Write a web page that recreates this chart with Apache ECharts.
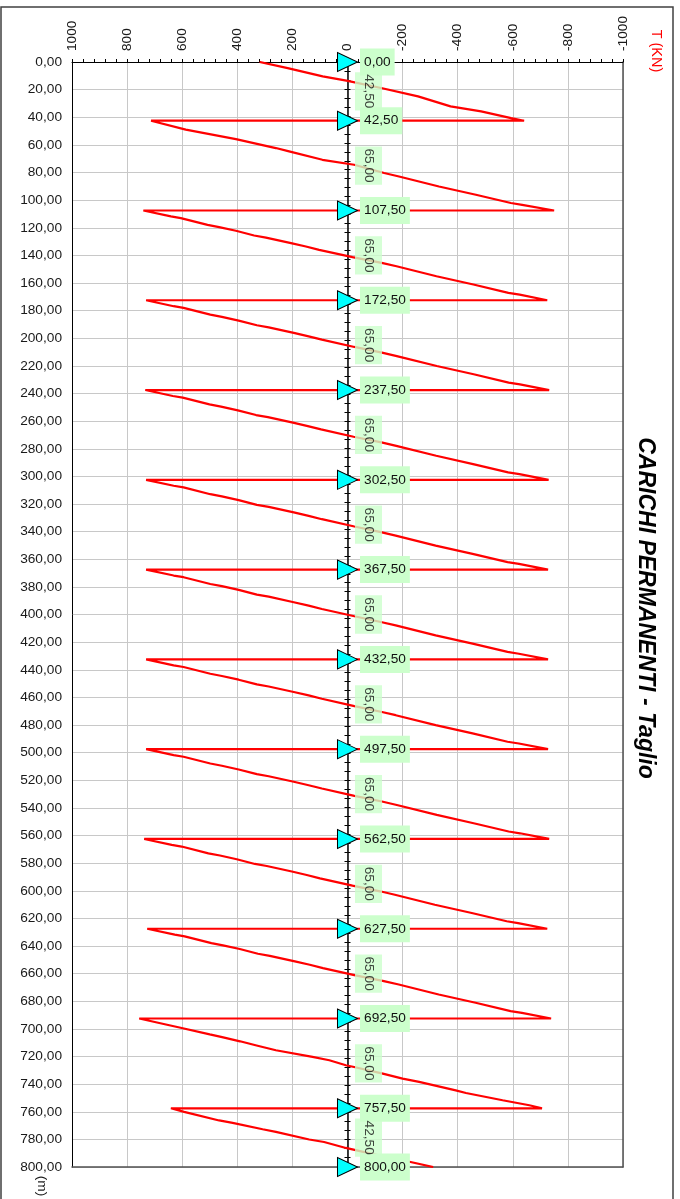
<!DOCTYPE html>
<html><head><meta charset="utf-8">
<script src="https://cdn.jsdelivr.net/npm/echarts@6/dist/echarts.min.js"></script>
<style>html,body{margin:0;padding:0;background:#fff}#c{width:680px;height:1199px}</style>
</head><body><div id="c"></div><script>
// Support positions (m) and span lengths (m)
const supports = [0, 42.5, 107.5, 172.5, 237.5, 302.5, 367.5, 432.5, 497.5, 562.5, 627.5, 692.5, 757.5, 800];
const spanLengths = [42.5, 65, 65, 65, 65, 65, 65, 65, 65, 65, 65, 65, 42.5];
// Shear T (kN) along the beam, per span: [m, T]
const span01 = [[0,319],[4.4,217],[10.4,90],[13.5,4],[18.8,-122],[24.9,-256],[32.1,-374],[35.8,-485],[40.6,-594],[42.5,-641]];
const span02 = [[42.5,713],[49,587],[55.8,405],[62.3,260],[64.7,212],[70.8,91],[74.4,-24],[80.4,-133],[82.9,-187],[90.1,-332],[96.1,-466],[102.1,-593],[103.4,-634],[107.5,-750]];
const span03 = [[107.5,741],[111.8,641],[113,605],[117.9,508],[119.5,466],[122.2,405],[125.6,339],[127.1,296],[131.1,205],[133.6,151],[136,103],[141.3,-18],[145.4,-124],[147.9,-178],[155.1,-323],[161.1,-457],[167.1,-584],[168.4,-625],[172.5,-725]];
const span04 = [[172.5,731],[176.8,631],[178,595],[182.9,498],[184.5,456],[187.2,395],[190.6,329],[192.1,286],[196.1,195],[198.6,141],[201,93],[206.3,-25],[210.4,-125],[212.9,-179],[220.1,-324],[226.1,-458],[232.1,-585],[233.4,-626],[237.5,-732]];
const span05 = [[237.5,734],[241.8,634],[243,598],[247.9,501],[249.5,459],[252.2,398],[255.6,332],[257.1,289],[261.1,198],[263.6,144],[266,96],[271.3,-22],[275.4,-123],[277.9,-177],[285.1,-322],[291.1,-456],[297.1,-583],[298.4,-624],[302.5,-730]];
const span06 = [[302.5,731],[306.8,631],[308,595],[312.9,498],[314.5,456],[317.2,395],[320.6,329],[322.1,286],[326.1,195],[328.6,141],[331,93],[336.3,-25],[340.4,-121],[342.9,-175],[350.1,-320],[356.1,-454],[362.1,-581],[363.4,-622],[367.5,-728]];
const span07 = [[367.5,731],[371.8,631],[373,595],[377.9,498],[379.5,456],[382.2,395],[385.6,329],[387.1,286],[391.1,195],[393.6,141],[396,93],[401.3,-25],[405.4,-121],[407.9,-175],[415.1,-320],[421.1,-454],[427.1,-581],[428.4,-622],[432.5,-728]];
const span08 = [[432.5,731],[436.8,631],[438,595],[442.9,498],[444.5,456],[447.2,395],[450.6,329],[452.1,286],[456.1,195],[458.6,141],[461,93],[466.3,-25],[470.4,-121],[472.9,-175],[480.1,-320],[486.1,-454],[492.1,-581],[493.4,-622],[497.5,-728]];
const span09 = [[497.5,731],[501.8,631],[503,595],[507.9,498],[509.5,456],[512.2,395],[515.6,329],[517.1,286],[521.1,195],[523.6,141],[526,93],[531.3,-25],[535.4,-125],[537.9,-179],[545.1,-324],[551.1,-458],[557.1,-585],[558.4,-626],[562.5,-732]];
const span10 = [[562.5,738],[566.8,638],[568,602],[572.9,505],[574.5,463],[577.2,402],[580.6,336],[582.1,293],[586.1,202],[588.6,148],[591,100],[596.3,-18],[600.4,-118],[602.9,-172],[610.1,-317],[616.1,-451],[622.1,-578],[623.4,-619],[627.5,-725]];
const span11 = [[627.5,727],[631.8,627],[633,591],[637.9,494],[639.5,452],[642.2,391],[645.6,325],[647.1,282],[651.1,191],[653.6,137],[656,89],[661.3,-29],[665.4,-132],[667.9,-186],[675.1,-331],[681.1,-465],[687.1,-592],[688.4,-633],[692.5,-739]];
const span12 = [[692.5,756],[697,655],[699,610],[704,500],[706,455],[709,390],[712,330],[715.5,260],[720.3,127],[722.7,66],[726.3,6],[727.6,-24],[732.4,-128],[736,-200],[738.4,-260],[744.5,-393],[746.4,-430],[751.7,-563],[755.3,-660],[757.5,-706]];
const span13 = [[757.5,641],[760.1,593],[766.3,466],[768.1,417],[772.7,308],[774.6,260],[780.1,139],[781.9,85],[786.2,6],[792.3,-128],[794,-176],[800,-311]];
const spans = [span01, span02, span03, span04, span05, span06, span07, span08, span09, span10, span11, span12, span13];

const fmt = v => Number(v).toFixed(2).replace('.', ',');
const FONT = '"Liberation Sans", Arial, sans-serif';

const shearData = [];
spans.forEach(s => s.forEach(p => shearData.push([p[1], p[0]])));
const supportData = supports.map(m => [0, m]);
const spanLabelData = spanLengths.map((L, i) => ({ value: [0, supports[i] + L / 2], name: fmt(L) }));

const chart = echarts.init(document.getElementById('c'), null, { renderer: 'canvas' });
const mAxisBase = { type: 'value', min: 0, max: 800, inverse: true };
chart.setOption({
  animation: false,
  backgroundColor: '#ffffff',
  textStyle: { fontFamily: FONT },
  grid: { left: 72, right: 57, top: 62, bottom: 32, outerBoundsMode: 'none', containLabel: false },
  xAxis: [
    { type: 'value', min: -1000, max: 1000, interval: 200, inverse: true, position: 'top',
      axisLine: { show: true, onZero: false, lineStyle: { color: '#000', width: 1 } },
      axisTick: { show: true, inside: false, length: 3, lineStyle: { color: '#000' } },
      minorTick: { show: true, splitNumber: 5, length: 3, lineStyle: { color: '#000' } },
      axisLabel: { rotate: -90, margin: 11, fontSize: 13.7, color: '#1a1a1a', fontFamily: FONT, formatter: v => String(v) },
      splitLine: { show: true, lineStyle: { color: '#c8c8c8', width: 1 } } },
    { type: 'value', min: -1000, max: 1000, inverse: true, position: 'bottom',
      axisLine: { show: true, onZero: false, lineStyle: { color: '#505050', width: 1.5 } },
      axisTick: { show: false }, axisLabel: { show: false }, splitLine: { show: false } }
  ],
  yAxis: [
    Object.assign({}, mAxisBase, { interval: 20, position: 'left',
      axisLine: { show: true, onZero: false, lineStyle: { color: '#000', width: 1 } },
      axisTick: { show: false },
      axisLabel: { formatter: v => fmt(v), margin: 10, fontSize: 13.7, color: '#1a1a1a', fontFamily: FONT },
      splitLine: { show: true, lineStyle: { color: '#c8c8c8', width: 1 } } }),
    Object.assign({}, mAxisBase, { position: 'right',
      axisLine: { show: true, onZero: false, lineStyle: { color: '#505050', width: 1.5 } },
      axisTick: { show: false }, axisLabel: { show: false }, splitLine: { show: false } }),
    Object.assign({}, mAxisBase, { interval: 6.5, position: 'left',
      axisLine: { show: true, onZero: true, onZeroAxisIndex: 0, lineStyle: { color: '#000', width: 1.5 } },
      axisTick: { show: true, inside: true, length: 3, lineStyle: { color: '#000' } },
      axisLabel: { show: false }, splitLine: { show: false } }),
    Object.assign({}, mAxisBase, { interval: 6.5, position: 'left',
      axisLine: { show: false, onZero: true, onZeroAxisIndex: 0 },
      axisTick: { show: true, inside: false, length: 3, lineStyle: { color: '#000' } },
      axisLabel: { show: false }, splitLine: { show: false } })
  ],
  series: [
    { type: 'line', xAxisIndex: 0, yAxisIndex: 0, data: shearData, showSymbol: false, symbol: 'none',
      lineStyle: { color: '#ff0000', width: 2.2 }, z: 2, silent: true },
    { type: 'scatter', xAxisIndex: 0, yAxisIndex: 0, data: supportData, symbol: 'triangle', symbolRotate: -90,
      symbolSize: [19, 20], itemStyle: { color: '#00ffff', borderColor: '#000', borderWidth: 1, opacity: 1 }, z: 4,
      label: { show: true, position: 'right', distance: 2, formatter: p => fmt(p.value[1]),
        backgroundColor: '#ccffcc', padding: [7, 4, 6, 4], color: '#111', fontSize: 13.7, fontFamily: FONT } },
    { type: 'scatter', xAxisIndex: 0, yAxisIndex: 0, data: spanLabelData, symbolSize: 0, z: 5,
      label: { show: true, position: 'inside', rotate: -90, offset: [0, -21], formatter: p => p.name,
        backgroundColor: '#ccffcc', padding: [7, 2, 6, 2], color: '#111', fontSize: 13.7, fontFamily: FONT } }
  ],
  graphic: [
    { type: 'rect', shape: { x: 1, y: 7, width: 672, height: 1210 }, style: { fill: 'none', stroke: '#404040', lineWidth: 1.5 }, z: -10, silent: true },
    { type: 'text', x: 645, y: 608, rotation: -Math.PI / 2,
      style: { text: 'CARICHI PERMANENTI - Taglio', font: 'italic bold 23px ' + FONT, fill: '#000',
        textAlign: 'center', textVerticalAlign: 'middle', align: 'center', verticalAlign: 'middle' } },
    { type: 'text', x: 656, y: 51, rotation: -Math.PI / 2,
      style: { text: 'T (KN)', font: '14.5px ' + FONT, fill: '#ff0000',
        textAlign: 'center', textVerticalAlign: 'middle', align: 'center', verticalAlign: 'middle' } },
    { type: 'text', x: 42, y: 1186, rotation: -Math.PI / 2,
      style: { text: '(m)', font: '13.7px ' + FONT, fill: '#1a1a1a',
        textAlign: 'center', textVerticalAlign: 'middle', align: 'center', verticalAlign: 'middle' } }
  ]
});
</script></body></html>
